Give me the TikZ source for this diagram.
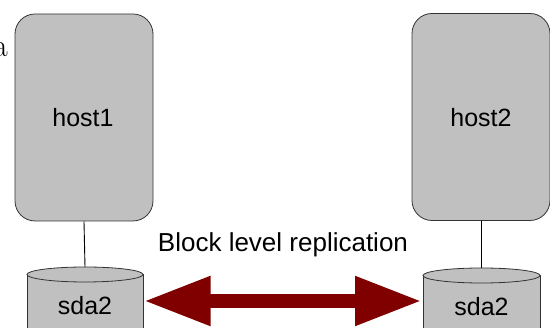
\documentclass[tikz,border=0pt]{standalone}
\usepackage{fontspec}
\setsansfont{Liberation Sans}
\usetikzlibrary{arrows.meta,calc}

\definecolor{diskgray}{HTML}{C0C0C0}
\definecolor{repred}{HTML}{800000}

\tikzset{
    host/.style={draw=black!80, line width=0.8pt, fill=diskgray, rounded corners=20pt,
        minimum width=138pt, minimum height=207pt, inner sep=0pt},
    label/.style={font=\sffamily\fontsize{25}{30}\selectfont, inner sep=0pt, anchor=base},
    disk/.style={draw=black!80, line width=0.8pt, fill=diskgray},
    link/.style={draw=black, line width=0.9pt}
}

\begin{document}
\begin{tikzpicture}[x=1pt, y=-1pt]

    \useasboundingbox (0,0) rectangle (550,328);
    \clip (0,0) rectangle (550,328);

    % Bit of running text on the left
    \node (txt) at (8,57) [anchor=base east, inner sep=0pt, font=\fontsize{32}{36}\selectfont] {a};

    % Draw the two hosts
    \node (h1) at (84,117.5) [host] {};
    \node (h2) at (481,117) [host] {};
    \node (h1label) at (83,127) [label] {host1};
    \node (h2label) at (481,127) [label] {host2};

    % Draw the disks (cut off at the bottom)
    \coordinate (d1) at (85,274.5);
    \coordinate (d2) at (481.5,275.5);
    \fill[diskgray] ($(d1)+(-58,0)$) -- ++(0,80) -- ++(116,0) -- ++(0,-80) -- cycle;
    \draw[disk] ($(d1)+(-58,0)$) -- ++(0,80);
    \draw[disk] ($(d1)+(58,0)$) -- ++(0,80);
    \draw[disk] (d1) ellipse [x radius=58, y radius=7.5];
    \fill[diskgray] ($(d2)+(-58.5,0)$) -- ++(0,80) -- ++(117,0) -- ++(0,-80) -- cycle;
    \draw[disk] ($(d2)+(-58.5,0)$) -- ++(0,80);
    \draw[disk] ($(d2)+(58.5,0)$) -- ++(0,80);
    \draw[disk] (d2) ellipse [x radius=58.5, y radius=7.5];
    \node (s1) at (85,315) [label] {sda2};
    \node (s2) at (481.5,316) [label] {sda2};

    % Tops of the disks and the ends of the arrow
    \coordinate (t1) at (85,267);
    \coordinate (t2) at (481,268);
    \coordinate (e1) at (143.5,301);
    \coordinate (e2) at (422,301);

    % Connect each host to its disk
    \draw[link] (h1.south) -- (t1);
    \draw[link] (h2.south) -- (t2);

    % Replication arrow between the disks
    \draw[repred, line width=14pt, {Triangle[length=67pt, width=46pt]}-{Triangle[length=67pt, width=46pt]}] (e1) -- (e2);
    \node (rep) at (283,252) [label, font=\sffamily\fontsize{26}{30}\selectfont] {Block level replication};

\end{tikzpicture}
\end{document}
